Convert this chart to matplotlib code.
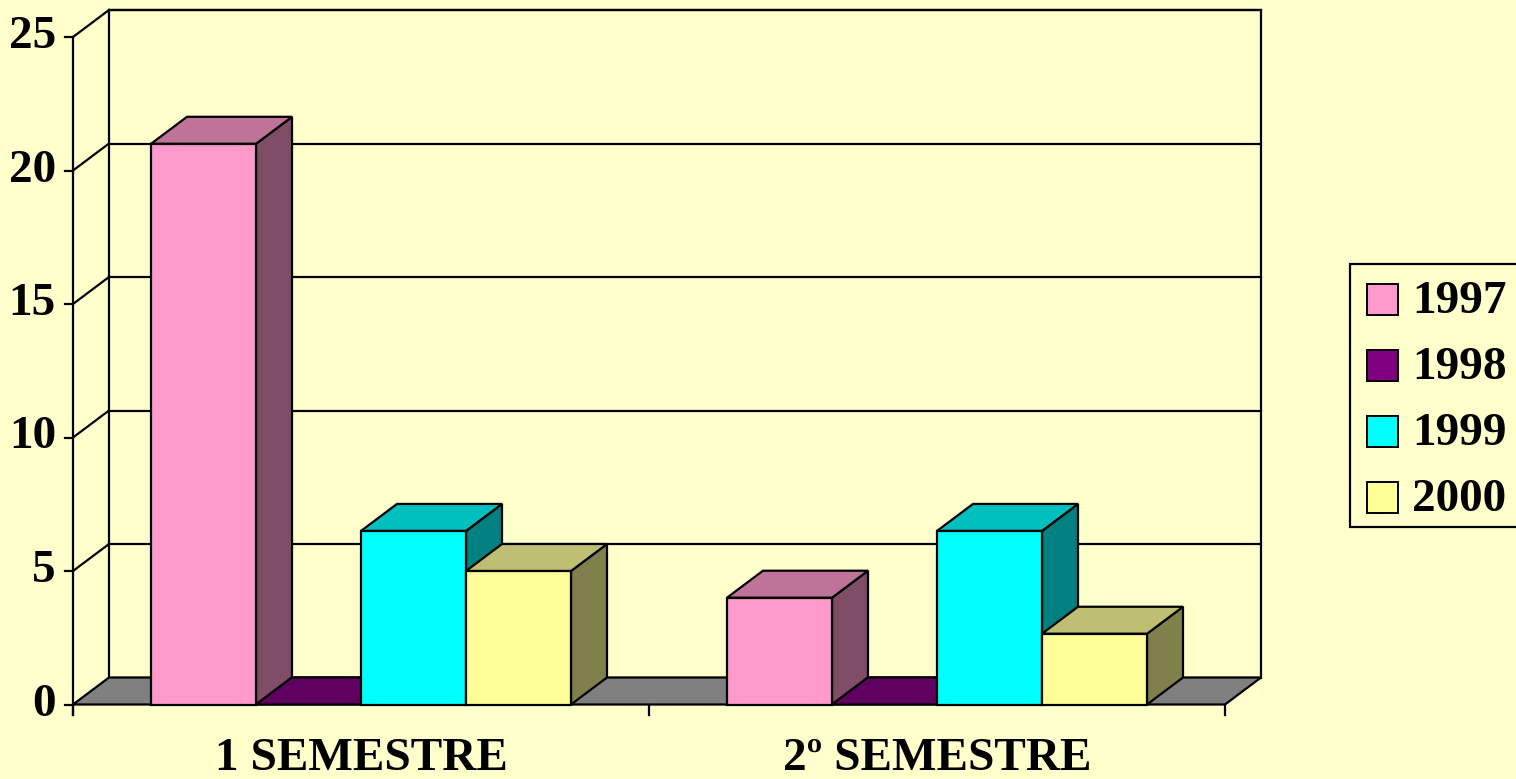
import matplotlib.pyplot as plt
from matplotlib.patches import Polygon, Rectangle

# --- data ---
categories = ["1 SEMESTRE", "2º SEMESTRE"]
years = ["1997", "1998", "1999", "2000"]
v1997 = [21, 4]
v1998 = [0, 0]
v1999 = [6.5, 6.5]
v2000 = [5, 2.65]
series = [v1997, v1998, v1999, v2000]
y_ticks = [0, 5, 10, 15, 20, 25]

# face colours: front, top, side
front_cols = ["#FF99CC", "#800080", "#00FFFF", "#FFFF99"]
top_cols = ["#BF7399", "#600060", "#00BFBF", "#BFBF73"]
side_cols = ["#804D66", "#400040", "#008080", "#80804D"]
bg = "#FFFFCC"

W, H = 1516, 779
fig = plt.figure(figsize=(W / 100, H / 100), dpi=100, facecolor=bg)
ax = fig.add_axes([0, 0, 1, 1])
ax.set_facecolor(bg)

# pixel mapping: x=0 at px 73, one category = 576 px; y=0 at px 704.5, one unit = 26.7 px
x0px, catpx = 73, 576
y0px, unitpx = 704.5, 26.7
ax.set_xlim(-x0px / catpx, (W - x0px) / catpx)
ax.set_ylim(-(H - y0px) / unitpx, y0px / unitpx)
ax.axis("off")

DX = 36 / catpx   # depth offset
DY = 27 / unitpx
lw = 1.6
ncat = len(categories)
ymax = y_ticks[-1]
font = dict(family="Liberation Serif", fontweight="bold", fontsize=34)

z = [1]  # running zorder so things stack in drawing order


def nz():
    z[0] += 1
    return z[0]


# back wall
ax.add_patch(Polygon([(DX, DY), (ncat + DX, DY), (ncat + DX, ymax + DY), (DX, ymax + DY)],
                     facecolor=bg, edgecolor="black", lw=lw, zorder=nz()))
# gridlines on back wall and left wall
for t in y_ticks[1:]:
    ax.plot([DX, ncat + DX], [t + DY, t + DY], color="black", lw=lw, zorder=nz())
    ax.plot([0, DX], [t, t + DY], color="black", lw=lw, zorder=nz())
    ax.plot([-8 / catpx, 0], [t, t], color="black", lw=lw, zorder=nz())
for t in y_ticks:
    ax.text(-17 / catpx, t, str(t), ha="right", va="center", **font)

# front y axis
ax.plot([0, 0], [-10 / unitpx, ymax], color="black", lw=lw, zorder=nz())
ax.plot([-8 / catpx, 0], [0, 0], color="black", lw=lw, zorder=nz())

# floor
ax.add_patch(Polygon([(0, 0), (ncat, 0), (ncat + DX, DY), (DX, DY)],
                     facecolor="#808080", edgecolor="black", lw=lw, zorder=nz()))

# x ticks and category labels
for i in range(ncat + 1):
    ax.plot([i, i], [0, -10 / unitpx], color="black", lw=lw, zorder=nz())
for i, c in enumerate(categories):
    ax.text(i + 0.5, -55 / unitpx, c, ha="center", va="center", **font)

# bars
nser = len(series)
bw = 105 / catpx
gap = (1 - nser * bw) / 2
for i in range(ncat):
    for j, vals in enumerate(series):
        v = vals[i]
        xl = i + gap + j * bw
        xr = xl + bw
        ax.add_patch(Polygon([(xr, 0), (xr + DX, DY), (xr + DX, v + DY), (xr, v)],
                             facecolor=side_cols[j], edgecolor="black", lw=lw, zorder=nz()))
        ax.add_patch(Polygon([(xl, v), (xr, v), (xr + DX, v + DY), (xl + DX, v + DY)],
                             facecolor=top_cols[j], edgecolor="black", lw=lw, zorder=nz()))
        if v > 0:
            ax.add_patch(Rectangle((xl, 0), bw, v, facecolor=front_cols[j],
                                   edgecolor="black", lw=lw, zorder=nz()))


# legend (figure pixel coords)
def fx(px):
    return px / W


def fy(py):
    return 1 - py / H


fig.patches.append(Rectangle((fx(1350), fy(527)), fx(1530) - fx(1350), fy(264) - fy(527),
                             transform=fig.transFigure, facecolor=bg, edgecolor="black",
                             lw=lw))
for k, yr in enumerate(years):
    cy = 300 + k * 66
    fig.patches.append(Rectangle((fx(1367), fy(cy + 15)), fx(31), fy(0) - fy(31),
                                 transform=fig.transFigure, facecolor=front_cols[k],
                                 edgecolor="black", lw=1.4))
    fig.text(fx(1412), fy(cy + 2), yr, ha="left", va="center", **font)

fig.savefig("out.png", dpi=100, facecolor=bg)
